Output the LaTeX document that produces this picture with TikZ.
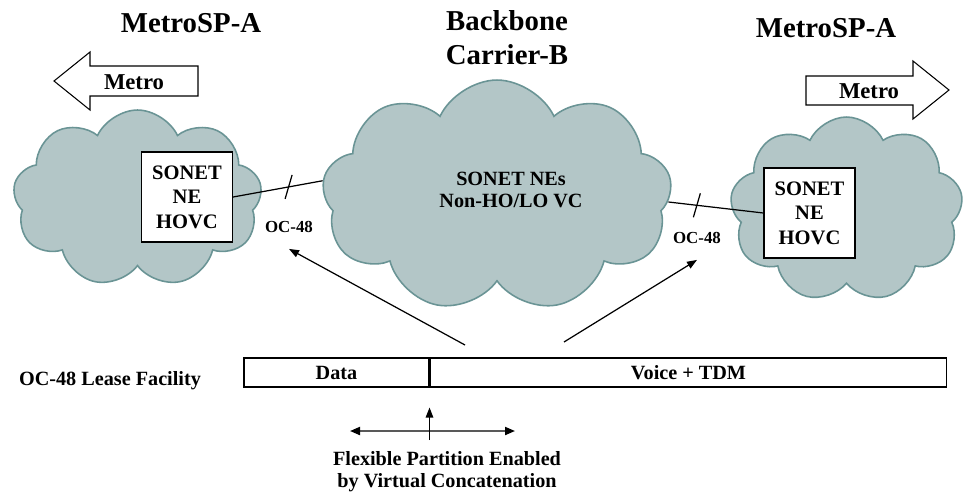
\documentclass[tikz,border=0pt]{standalone}
\usepackage{fontspec}
\setmainfont{Liberation Serif}
\usetikzlibrary{shapes.symbols,arrows.meta,positioning}
\definecolor{cloudfill}{HTML}{B3C6C7}
\definecolor{cloudedge}{HTML}{6A9495}
\begin{document}
\begin{tikzpicture}
[x=0.02cm,y=-0.02cm,
  netcloud/.style={cloud,cloud puffs=9,cloud puff arc=130,cloud ignores aspect,
    draw=cloudedge,fill=cloudfill,line width=0.9pt,inner sep=0pt},
  nebox/.style={shape=rectangle,draw,fill=white,line width=0.7pt,align=center,
    minimum width=1.82cm,minimum height=1.8cm,inner sep=0pt,
    font=\fontsize{11.7}{13.9}\selectfont\bfseries},
  titletext/.style={anchor=base,align=center,font=\fontsize{16.4}{19.3}\selectfont\bfseries},
  midtext/.style={align=center,font=\fontsize{11.5}{13}\selectfont\bfseries},
  ratetext/.style={anchor=base,font=\fontsize{9.6}{11}\selectfont\bfseries},
  bartext/.style={font=\fontsize{11.5}{12.5}\selectfont\bfseries},
  blockarrow/.style={draw,fill=white,line width=0.6pt},
  link/.style={-,line width=0.7pt},
  pointer/.style={-{Triangle[length=2mm,width=1.5mm]},line width=0.7pt}]
\useasboundingbox (0,0) rectangle (964,491);
% titles
\node (ltitle) at (191,32) [titletext] {MetroSP-A};
\node (btitle) at (507,64) [titletext] {Backbone\\Carrier-B};
\node (rtitle) at (826,37) [titletext] {MetroSP-A};
% metro arrows
\draw[blockarrow] (198,66) -- (90,66) -- (90,52) -- (54,81) -- (90,110) -- (90,96) -- (198,96) -- cycle;
\node (lmetro) at (134,82) [bartext,font=\fontsize{12.9}{14}\selectfont\bfseries] {Metro};
\draw[blockarrow] (806,76) -- (913,76) -- (913,61) -- (949,90) -- (913,119) -- (913,105) -- (806,105) -- cycle;
\node (rmetro) at (869,91) [bartext,font=\fontsize{12.9}{14}\selectfont\bfseries] {Metro};
% clouds
\node (lcloud) at (137.5,198.5) [netcloud,minimum width=4.98cm,minimum height=3.54cm] {};
\node (bcloud) at (497,196) [netcloud,minimum width=7cm,minimum height=4.64cm] {};
\node (rcloud) at (846.5,209.5) [netcloud,minimum width=4.66cm,minimum height=3.7cm] {};
\node (bnes) at (511,190) [midtext] {SONET NEs\\Non-HO/LO VC};
% network elements
\node (lne) at (187,197) [nebox] {SONET\\NE\\HOVC};
\node (rne) at (809.5,213) [nebox] {SONET\\NE\\HOVC};
% OC-48 links
\draw[link] (lne.east) -- coordinate[pos=0.62] (lcut) (bcloud.175);
\draw[link] (lcut) ++(3.5,-12) -- ++(-7,24);
\draw[link] (bcloud.-2) -- coordinate[pos=0.3] (rcut) (rne.west);
\draw[link] (rcut) ++(3.5,-12) -- ++(-7,24);
\node (loc) at (289,232) [ratetext] {OC-48};
\node (roc) at (697,243) [ratetext] {OC-48};
% lease facility
\node (lease) at (110,385) [bartext,anchor=base] {OC-48 Lease Facility};
\node (data) at (336.5,372.5) [bartext,draw,line width=0.6pt,minimum width=3.7cm,minimum height=0.58cm,inner sep=0pt] {Data};
\node (voice) [bartext,draw,line width=0.6pt,minimum width=10.34cm,minimum height=0.58cm,inner sep=0pt,right=0pt of data] {Voice + TDM};
\coordinate (lfoot) at (465,345);
\coordinate (rfoot) at (564,342);
\draw[pointer] (lfoot) -- ([yshift=-6pt]loc.south);
\draw[pointer] (rfoot) -- ([yshift=-6pt]roc.south);
% partition
\node (flex) at (447,487) [bartext,anchor=base,align=center] {Flexible Partition Enabled\\by Virtual Concatenation};
\coordinate (sleft) at (350,431);
\coordinate (sright) at (515,431);
\draw[{Triangle[length=2mm,width=1.6mm,color=black]}-{Triangle[length=2mm,width=1.6mm,color=black]},draw=black!65,line width=1.1pt] (sleft) -- (sright);
\draw[pointer] (data.south east |- 0,440) -- ([yshift=-0.4cm]data.south east);
\end{tikzpicture}
\end{document}
